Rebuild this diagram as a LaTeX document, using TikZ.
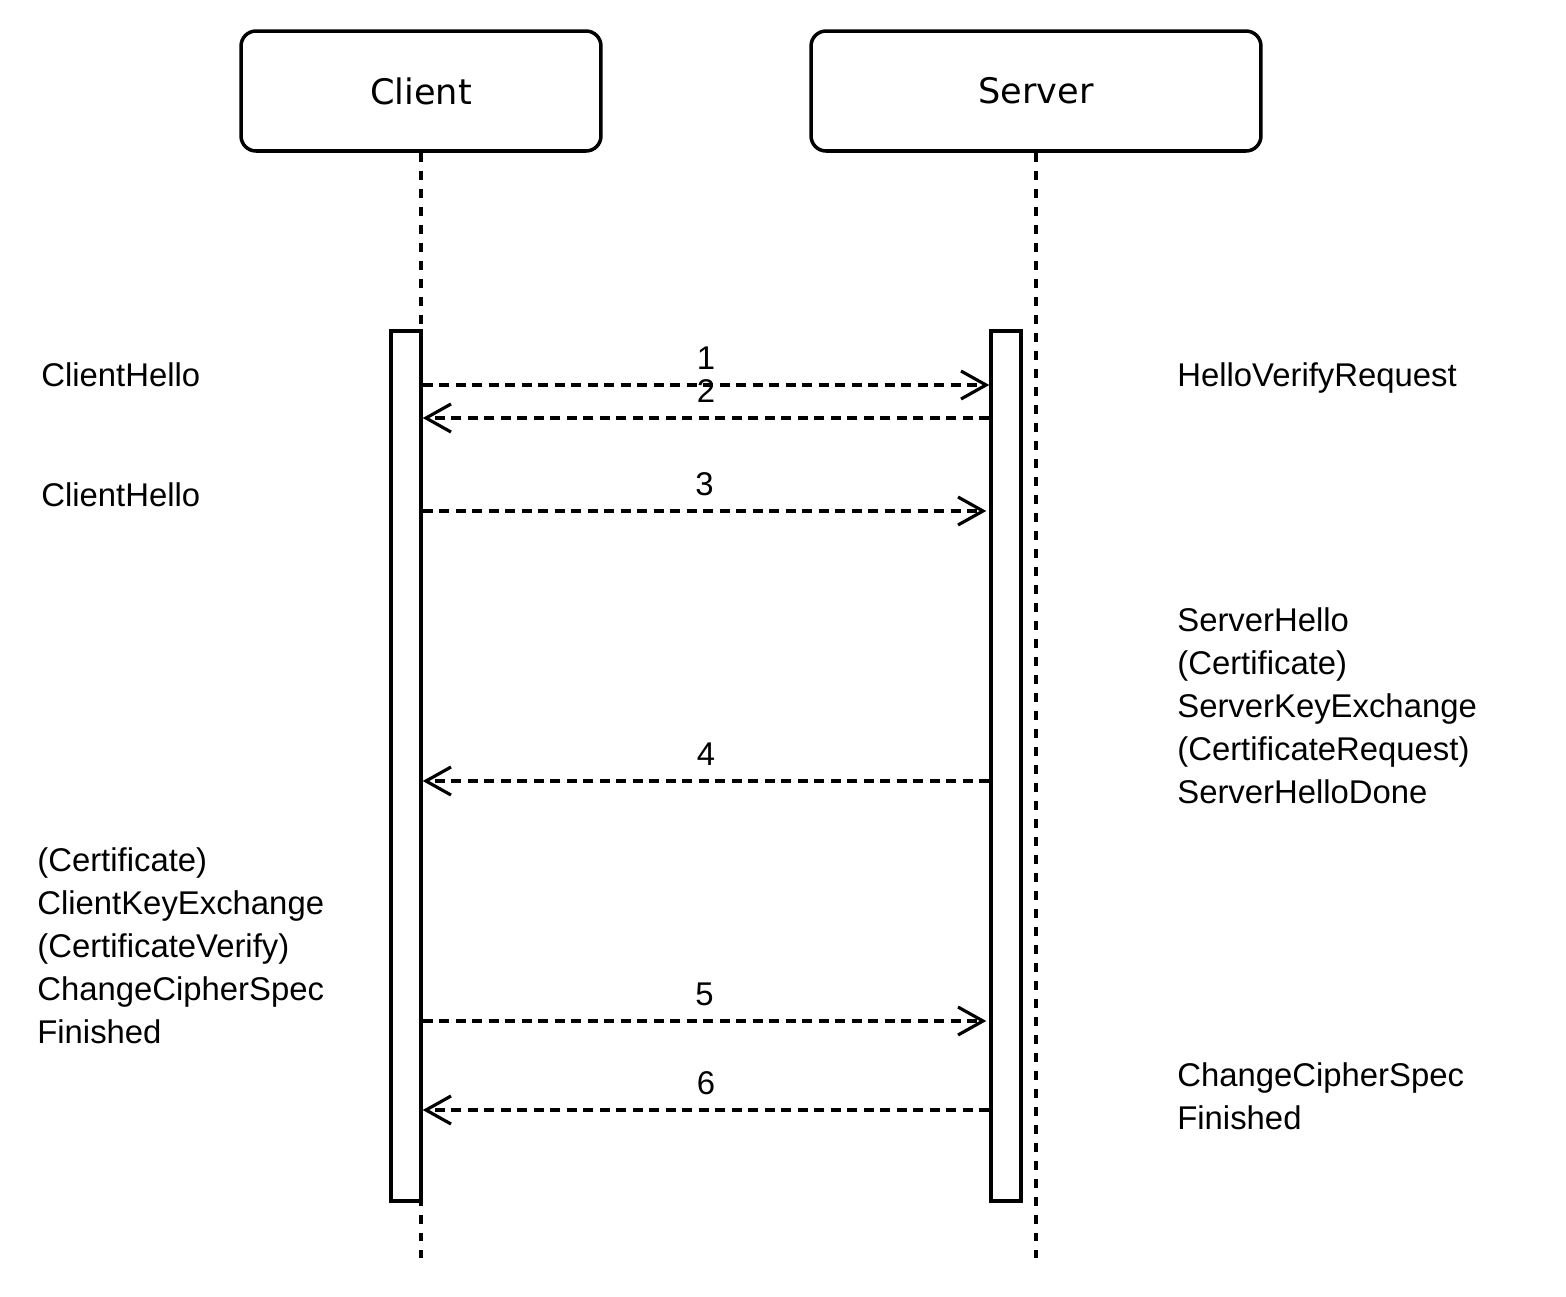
\documentclass[tikz,border=0pt]{standalone}
\usepackage{fontspec}
\setmainfont{Liberation Sans}
\newfontfamily\actorfont{DejaVu Sans}
\usetikzlibrary{arrows.meta}

\begin{document}
\begin{tikzpicture}[
    x=0.02cm,
    y=-0.02cm,
    actor/.style={draw, line width=2pt, rounded corners=0.3cm, minimum height=2.4cm,
        font=\actorfont\fontsize{20}{24}\selectfont},
    activation/.style={draw, fill=white, line width=2pt, minimum width=0.6cm,
        minimum height=17.4cm, inner sep=0pt},
    lifeline/.style={line width=1.8pt, dash pattern=on 0.18cm off 0.18cm},
    msg/.style={line width=1.8pt, dash pattern=on 0.2cm off 0.13cm,
        -{Straight Barb[length=0.5cm, width=0.56cm, line width=1.8pt]}},
    note/.style={anchor=base west, inner sep=0pt, align=left,
        font=\fontsize{18.7}{24.4}\selectfont},
    msgnum/.style={anchor=base, inner sep=0pt, yshift=0.32cm,
        font=\fontsize{18.7}{21.6}\selectfont}
]

\useasboundingbox (0,0) rectangle (1566,1296);

% =========================================================
% PARTECIPANTI
% =========================================================

\node[actor, minimum width=7.2cm] (client) at (421,91) {Client};
\node[actor, minimum width=9cm]   (server) at (1036,91) {Server};

% Linee di vita
\coordinate (cend) at (421,1258);
\coordinate (send) at (1036,1258);
\draw[lifeline] (client.south) -- (cend);
\draw[lifeline] (server.south) -- (send);

% Barre di attivazione
\node[activation] (cbar) at (406,766) {};
\node[activation] (sbar) at (1006,766) {};

% =========================================================
% MESSAGGI
% =========================================================

\coordinate (m1) at (0,385);
\coordinate (m2) at (0,418);
\coordinate (m3) at (0,511);
\coordinate (m4) at (0,781);
\coordinate (m5) at (0,1021);
\coordinate (m6) at (0,1110);

% Client -> Server
\draw[msg] (cbar.east |- m1) -- node[msgnum] {1} (sbar.west |- m1);
\draw[msg] (cbar.east |- m3) -- node[msgnum] {3} ([xshift=-0.06cm]sbar.west |- m3);
\draw[msg] (cbar.east |- m5) -- node[msgnum] {5} ([xshift=-0.06cm]sbar.west |- m5);

% Server -> Client
\draw[msg] (sbar.west |- m2) -- node[msgnum] {2} (cbar.east |- m2);
\draw[msg] (sbar.west |- m4) -- node[msgnum] {4} (cbar.east |- m4);
\draw[msg] (sbar.west |- m6) -- node[msgnum] {6} (cbar.east |- m6);

% =========================================================
% ETICHETTE
% =========================================================

% Lato client (base = ultima riga)
\node[note] (chello1) at (41,386) {ClientHello};
\node[note] (chello2) at (41,506) {ClientHello};
\node[note] (cflight) at (37,1043)
    {(Certificate)\\ClientKeyExchange\\(CertificateVerify)\\ChangeCipherSpec\\Finished};

% Lato server
\node[note] (hverify) at (1177,386) {HelloVerifyRequest};
\node[note] (sflight) at (1177,803)
    {ServerHello\\(Certificate)\\ServerKeyExchange\\(CertificateRequest)\\ServerHelloDone};
\node[note] (sfinish) at (1177,1129)
    {ChangeCipherSpec\\Finished};

\end{tikzpicture}
\end{document}
